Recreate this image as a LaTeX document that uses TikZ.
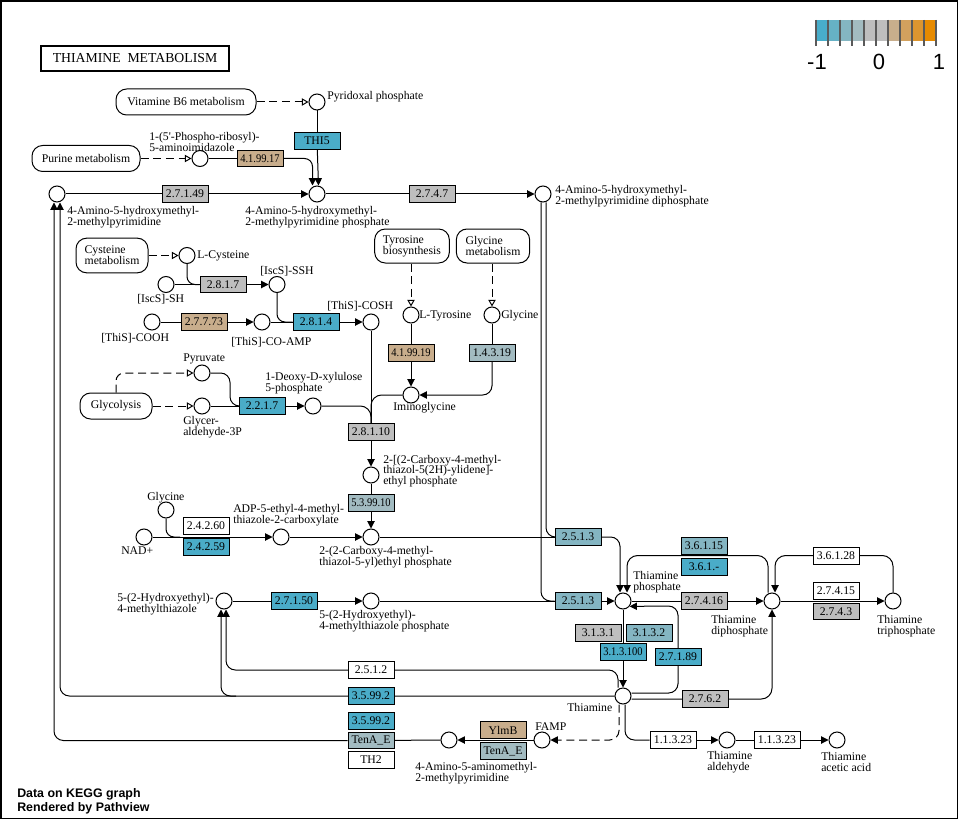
\documentclass[tikz,border=0pt]{standalone}
\usepackage{fontspec}
\setmainfont{Liberation Serif}
\newfontfamily\lsans{Liberation Sans}
\usetikzlibrary{arrows.meta,calc}
\pgfdeclarelayer{bg}
\pgfsetlayers{bg,main}
\definecolor{cb}{HTML}{4AACC8}
\definecolor{cm}{HTML}{84B5C2}
\definecolor{cl}{HTML}{A2BBC1}
\definecolor{cg}{HTML}{BEBEBE}
\definecolor{ct}{HTML}{C8AD8C}
\definecolor{lg1}{HTML}{48ADCA}
\definecolor{lg2}{HTML}{66B1C5}
\definecolor{lg3}{HTML}{84B6C2}
\definecolor{lg4}{HTML}{A2BBC0}
\definecolor{lg5}{HTML}{BEBEBE}
\definecolor{lg6}{HTML}{BEBEBE}
\definecolor{lg7}{HTML}{C8AE8C}
\definecolor{lg8}{HTML}{D2A15E}
\definecolor{lg9}{HTML}{DC952F}
\definecolor{lg10}{HTML}{E68A00}
\definecolor{tickc}{HTML}{5A5A5A}
\newcommand\fs{\fontsize{8.8pt}{8.1pt}\selectfont}
\newsavebox\enzbox
\newcommand\fitt[1]{\sbox\enzbox{#1}\ifdim\wd\enzbox>29.5pt\pgfmathsetmacro\enzsx{29.5/\wd\enzbox}\scalebox{\enzsx}[1]{\usebox\enzbox}\else\usebox\enzbox\fi}
\tikzset{
  cpd/.style={circle, draw, fill=white, minimum size=12pt, inner sep=0pt, line width=0.75pt},
  enz/.style={rectangle, draw, minimum width=34.5pt, minimum height=12.3pt, inner sep=0pt, line width=0.75pt, font=\fs},
  mapb/.style={rectangle, draw, fill=white, rounded corners=8pt, line width=0.75pt, align=left, inner sep=0pt, font=\fs},
  lbl/.style={inner sep=0pt, anchor=west, align=left, font=\fs},
  ln/.style={draw, line width=0.75pt},
  arr/.style={ln, -{Triangle[length=5.5pt,width=5.5pt]}},
  dsh/.style={dash pattern=on 6pt off 3.5pt},
  otip/.style={-{Triangle[length=5pt,width=5.5pt,fill=white]}},
}
\begin{document}
\begin{tikzpicture}[x=0.75pt,y=-0.75pt]
\useasboundingbox (0,0) rectangle (960,820);
\draw[line width=1.1pt] (1,1) rectangle (957.5,818.5);

% title
\node[draw, line width=1.5pt, minimum width=141pt, minimum height=18.75pt, inner sep=0pt, font=\fontsize{10.3pt}{12pt}\selectfont] (title) at (135,58.5) {THIAMINE\ \ METABOLISM};

% legend
\foreach \c [count=\i from 0] in {lg1,lg2,lg3,lg4,lg5,lg6,lg7,lg8,lg9,lg10}
  \fill[\c] ({816+12*\i},20) rectangle ++(12,21);
\foreach \i in {0,...,10}
  \draw[line width=1.5pt, tickc] ({816+12*\i},20) -- ++(0,26);
\node[inner sep=0pt, font=\lsans\fontsize{16.5pt}{18pt}\selectfont] (lgm) at (817,61.5) {-1};
\node[inner sep=0pt, font=\lsans\fontsize{16.5pt}{18pt}\selectfont] (lgz) at (879,61.5) {0};
\node[inner sep=0pt, font=\lsans\fontsize{16.5pt}{18pt}\selectfont] (lgp) at (939,61.5) {1};

% credits
\node[anchor=base west, inner sep=0pt, font=\lsans\bfseries\fontsize{9.3pt}{11pt}\selectfont] (cr1) at (17,797) {Data on KEGG graph};
\node[anchor=base west, inner sep=0pt, font=\lsans\bfseries\fontsize{9.3pt}{11pt}\selectfont] (cr2) at (17,811.5) {Rendered by Pathview};

% map boxes
\node[mapb, minimum width=105pt, minimum height=19.5pt] (vb6) at (186,102) {Vitamine B6 metabolism};
\node[mapb, minimum width=81pt, minimum height=19.5pt] (pur) at (86,158.5) {Purine metabolism};
\node[mapb, minimum width=54pt, minimum height=26pt] (cysm) at (112,255.5) {Cysteine\\metabolism};
\node[mapb, minimum width=56pt, minimum height=25.5pt] (tyrm) at (412,246) {Tyrosine\\biosynthesis};
\node[mapb, minimum width=55pt, minimum height=25.5pt] (glym) at (493,246) {Glycine\\metabolism};
\node[mapb, minimum width=54pt, minimum height=19.5pt] (glyc) at (116,406) {Glycolysis};

% compounds
\node[cpd] (plp) at (317,102) {};
\node[cpd] (pra) at (200,158.5) {};
\node[cpd] (hmp) at (57,194) {};
\node[cpd] (hmpp) at (317,194) {};
\node[cpd] (hmppp) at (543,194) {};
\node[cpd] (cys) at (187,255.5) {};
\node[cpd] (iscsh) at (166,284.5) {};
\node[cpd] (iscssh) at (277,284.5) {};
\node[cpd] (thiscooh) at (152,322) {};
\node[cpd] (thisamp) at (262,322) {};
\node[cpd] (thiscosh) at (371,322) {};
\node[cpd] (pyr) at (202,373) {};
\node[cpd] (gap) at (202,406) {};
\node[cpd] (dxp) at (313,406) {};
\node[cpd] (tyr) at (411,315) {};
\node[cpd] (gly) at (492,315) {};
\node[cpd] (imgly) at (411,395) {};
\node[cpd] (cthz) at (371,475) {};
\node[cpd] (cthzp) at (371,537) {};
\node[cpd] (gly2) at (166,510) {};
\node[cpd] (nad) at (144,537) {};
\node[cpd] (adpthz) at (281,537) {};
\node[cpd] (hetz) at (224,601) {};
\node[cpd] (hetzp) at (371,601) {};
\node[cpd] (tmp) at (623,601) {};
\node[cpd] (tpp) at (772,601) {};
\node[cpd] (tttp) at (893,601) {};
\node[cpd] (thi) at (623,696) {};
\node[cpd] (famp) at (542,740) {};
\node[cpd] (ampy) at (449,740) {};
\node[cpd] (thald) at (727,740) {};
\node[cpd] (thaca) at (837,740) {};

% compound labels
\node[lbl] (l_plp) at (327,97) {Pyridoxal phosphate};
\node[lbl] (l_pra) at (149,142) {1-(5\textquotesingle-Phospho-ribosyl)-\\5-aminoimidazole};
\node[lbl] (l_hmp) at (67,217) {4-Amino-5-hydroxymethyl-\\2-methylpyrimidine};
\node[lbl] (l_hmpp) at (245,217) {4-Amino-5-hydroxymethyl-\\2-methylpyrimidine phosphate};
\node[lbl] (l_hmppp) at (555,196) {4-Amino-5-hydroxymethyl-\\2-methylpyrimidine diphosphate};
\node[lbl] (l_cys) at (197,256) {L-Cysteine};
\node[lbl] (l_iscssh) at (260,271) {[IscS]-SSH};
\node[lbl] (l_iscsh) at (137,299) {[IscS]-SH};
\node[lbl] (l_thiscooh) at (101,338) {[ThiS]-COOH};
\node[lbl] (l_thisamp) at (231,342) {[ThiS]-CO-AMP};
\node[lbl] (l_thiscosh) at (327,306) {[ThiS]-COSH};
\node[lbl] (l_pyr) at (183,359) {Pyruvate};
\node[lbl] (l_gap) at (183,427) {Glycer-\\aldehyde-3P};
\node[lbl] (l_dxp) at (265,383) {1-Deoxy-D-xylulose\\5-phosphate};
\node[lbl] (l_tyr) at (419,316) {L-Tyrosine};
\node[lbl] (l_gly) at (501,316) {Glycine};
\node[lbl] (l_imgly) at (393,408) {Iminoglycine};
\node[lbl] (l_cthz) at (383,471) {2-[(2-Carboxy-4-methyl-\\thiazol-5(2H)-ylidene]-\\ethyl phosphate};
\node[lbl] (l_cthzp) at (319,557) {2-(2-Carboxy-4-methyl-\\thiazol-5-yl)ethyl phosphate};
\node[lbl] (l_gly2) at (147,498) {Glycine};
\node[lbl] (l_nad) at (121,551) {NAD+};
\node[lbl] (l_adpthz) at (233,515) {ADP-5-ethyl-4-methyl-\\thiazole-2-carboxylate};
\node[lbl] (l_hetz) at (117,604) {5-(2-Hydroxyethyl)-\\4-methylthiazole};
\node[lbl] (l_hetzp) at (319,621) {5-(2-Hydroxyethyl)-\\4-methylthiazole phosphate};
\node[lbl] (l_tmp) at (633,582) {Thiamine\\phosphate};
\node[lbl] (l_tpp) at (711,626) {Thiamine\\diphosphate};
\node[lbl] (l_tttp) at (877,626) {Thiamine\\triphosphate};
\node[lbl] (l_thi) at (567,707) {Thiamine};
\node[lbl] (l_famp) at (535,727) {FAMP};
\node[lbl] (l_ampy) at (415,773) {4-Amino-5-aminomethyl-\\2-methylpyrimidine};
\node[lbl] (l_thald) at (707,762) {Thiamine\\aldehyde};
\node[lbl] (l_thaca) at (821,762) {Thiamine\\acetic acid};

% enzymes
\node[enz, fill=cb] (thi5) at (317,141) {\fitt{THI5}};
\node[enz, fill=ct] (e419917) at (260,158.5) {\fitt{4.1.99.17}};
\node[enz, fill=cg] (e27149) at (185,194) {\fitt{2.7.1.49}};
\node[enz, fill=cg] (e2747) at (432,194) {\fitt{2.7.4.7}};
\node[enz, fill=cg] (e2817) at (223,284.5) {\fitt{2.8.1.7}};
\node[enz, fill=ct] (e27773) at (204,322) {\fitt{2.7.7.73}};
\node[enz, fill=cb] (e2814) at (316,322) {\fitt{2.8.1.4}};
\node[enz, fill=cb] (e2217) at (262,406) {\fitt{2.2.1.7}};
\node[enz, fill=ct] (e41919) at (411,353) {\fitt{4.1.99.19}};
\node[enz, fill=cl] (e14319) at (492,353) {\fitt{1.4.3.19}};
\node[enz, fill=cg] (e28110) at (371,432) {\fitt{2.8.1.10}};
\node[enz, fill=cl] (e539910) at (371,503) {\fitt{5.3.99.10}};
\node[enz, fill=white] (e24260) at (206,526) {\fitt{2.4.2.60}};
\node[enz, fill=cb] (e24259) at (206,547) {\fitt{2.4.2.59}};
\node[enz, fill=cb] (e27150) at (294,601) {\fitt{2.7.1.50}};
\node[enz, fill=cm] (e2513a) at (578,537) {\fitt{2.5.1.3}};
\node[enz, fill=cm] (e2513b) at (578,601) {\fitt{2.5.1.3}};
\node[enz, fill=cm] (e36115) at (704,546) {\fitt{3.6.1.15}};
\node[enz, fill=cb] (e361x) at (704,567) {\fitt{3.6.1.-}};
\node[enz, fill=cg] (e27416) at (704,601) {\fitt{2.7.4.16}};
\node[enz, fill=white] (e36128) at (836,556) {\fitt{3.6.1.28}};
\node[enz, fill=white] (e27415) at (836,591) {\fitt{2.7.4.15}};
\node[enz, fill=cg] (e2743) at (836,611.5) {\fitt{2.7.4.3}};
\node[enz, fill=cg] (e3131) at (598,633) {\fitt{3.1.3.1}};
\node[enz, fill=cm] (e3132) at (649,633) {\fitt{3.1.3.2}};
\node[enz, fill=cb] (e313100) at (623,652) {\fitt{3.1.3.100}};
\node[enz, fill=cb] (e27189) at (678,657) {\fitt{2.7.1.89}};
\node[enz, fill=cg] (e2762) at (705,699) {\fitt{2.7.6.2}};
\node[enz, fill=white] (e2512) at (371,670) {\fitt{2.5.1.2}};
\node[enz, fill=cb] (e35992a) at (371,696) {\fitt{3.5.99.2}};
\node[enz, fill=cb] (e35992b) at (371,721) {\fitt{3.5.99.2}};
\node[enz, fill=cl] (etena) at (371,740.5) {\fitt{TenA\_E}};
\node[enz, fill=white] (eth2) at (371,760) {\fitt{TH2}};
\node[enz, fill=ct] (eylmb) at (503,730) {\fitt{YlmB}};
\node[enz, fill=cl] (etenb) at (503,751) {\fitt{TenA\_E}};
\node[enz, fill=white] (e11323a) at (673,740) {\fitt{1.1.3.23}};
\node[enz, fill=white] (e11323b) at (777,740) {\fitt{1.1.3.23}};

% helper coordinates
\coordinate (k189) at (678,606);
\coordinate (k2512) at (226,670);
\coordinate (k35) at (236,696);
\coordinate (k2217) at (230,406);
\coordinate (k2426) at (180,537);

\begin{pgfonlayer}{bg}
% map links
\draw[ln,dsh,otip] (vb6) -- (plp);
\draw[ln,dsh,otip] (pur) -- (pra);
\draw[ln,dsh,otip] (cysm) -- (cys);
\draw[ln,dsh,otip] (tyrm.south -| tyr) -- (tyr);
\draw[ln,dsh,otip] (glym.south -| gly) -- (gly);
\draw[ln,dsh,otip,rounded corners=6pt] (glyc.north) |- (pyr);
\draw[ln,dsh,otip] (glyc) -- (gap);
% top
\draw[ln] (plp) -- (thi5);
\draw[arr] (thi5) -- ($(hmpp.north)+(1.5,0)$);
\draw[ln] (pra) -- (e419917);
\draw[arr,rounded corners=6pt] (e419917) -| ($(hmpp.north)+(-4.5,0)$);
\draw[ln] (hmp) -- (e27149);
\draw[arr] (e27149) -- (hmpp);
\draw[ln] (hmpp) -- (e2747);
\draw[arr] (e2747) -- (hmppp);
% 2.5.1.3
\draw[ln,rounded corners=7pt] ($(hmppp.south)+(3,0)$) |- (e2513a);
\draw[ln] (cthzp) -- (e2513a);
\draw[arr,rounded corners=7pt] (e2513a) -| ($(tmp.north)+(-3,0)$);
\draw[ln,rounded corners=7pt] ($(hmppp.south)+(-2,0)$) |- (e2513b);
\draw[ln] (hetzp) -- (e2513b);
\draw[arr] (e2513b) -- (tmp);
% phosphates
\draw[ln] (tmp) -- (e27416);
\draw[arr] (e27416) -- (tpp);
\draw[arr] (tpp) -- (tttp);
\draw[arr,rounded corners=8pt] ($(tpp.north)+(-4,0)$) -- ++(0,-37) -| ($(tmp.north)+(4,0)$);
\draw[arr,rounded corners=8pt] (tttp.north) -- ++(0,-37) -| ($(tpp.north)+(3,0)$);
\draw[arr] (tmp) -- (thi);
\draw[arr,rounded corners=7pt] ($(thi.east)+(0,-3)$) -| (k189) -- (tmp.-39);
\draw[arr,rounded corners=8pt] ($(thi.east)+(0,3)$) -| (tpp);
% thiamine degradation
\draw[arr,rounded corners=7pt] ($(thi.north)+(-5,0)$) |- (k2512) -- ($(hetz.south)+(2,0)$);
\draw[arr,rounded corners=7pt] (thi.west) -| ($(hmp.south)+(3,0)$);
\draw[arr,rounded corners=7pt] (k35) -| ($(hetz.south)+(-3,0)$);
\draw[ln] (ampy) -- (etena);
\draw[arr,rounded corners=7pt] (etena) -| ($(hmp.south)+(-3,0)$);
\draw[ln,dsh,-{Triangle[length=5.5pt,width=5.5pt]},rounded corners=7pt] ($(thi.south)+(-4,0)$) |- (famp);
\draw[arr] (famp) -- (ampy);
\draw[ln,rounded corners=7pt] ($(thi.south)+(2,0)$) |- (e11323a);
\draw[arr] (e11323a) -- (thald);
\draw[ln] (thald) -- (e11323b);
\draw[arr] (e11323b) -- (thaca);
% thiazole part
\draw[ln,rounded corners=6pt] (cys) |- (e2817);
\draw[ln] (iscsh) -- (e2817);
\draw[arr] (e2817) -- (iscssh);
\draw[ln,rounded corners=6pt] (iscssh) |- (e2814);
\draw[ln] (thisamp) -- (e2814);
\draw[arr] (e2814) -- (thiscosh);
\draw[ln] (thiscooh) -- (e27773);
\draw[arr] (e27773) -- (thisamp);
\draw[ln,rounded corners=7pt] (pyr) -| (k2217) -- (e2217);
\draw[ln] (gap) -- (e2217);
\draw[arr] (e2217) -- (dxp);
\draw[ln] (thiscosh) -- (e28110);
\draw[ln,rounded corners=8pt] (dxp) -| (e28110);
\draw[ln,rounded corners=8pt] (imgly) -| (e28110);
\draw[arr] (e28110) -- (cthz);
\draw[ln] (tyr) -- (e41919);
\draw[arr] (e41919) -- (imgly);
\draw[ln] (gly) -- (e14319);
\draw[arr,rounded corners=7pt] (e14319) |- (imgly);
\draw[ln] (cthz) -- (e539910);
\draw[arr] (e539910) -- (cthzp);
\draw[arr] (nad) -- (adpthz);
\draw[ln,rounded corners=6pt] (gly2) |- (k2426);
\draw[arr] (adpthz) -- (cthzp);
\draw[ln] (hetz) -- (e27150);
\draw[arr] (e27150) -- (hetzp);
\end{pgfonlayer}
\end{tikzpicture}
\end{document}
